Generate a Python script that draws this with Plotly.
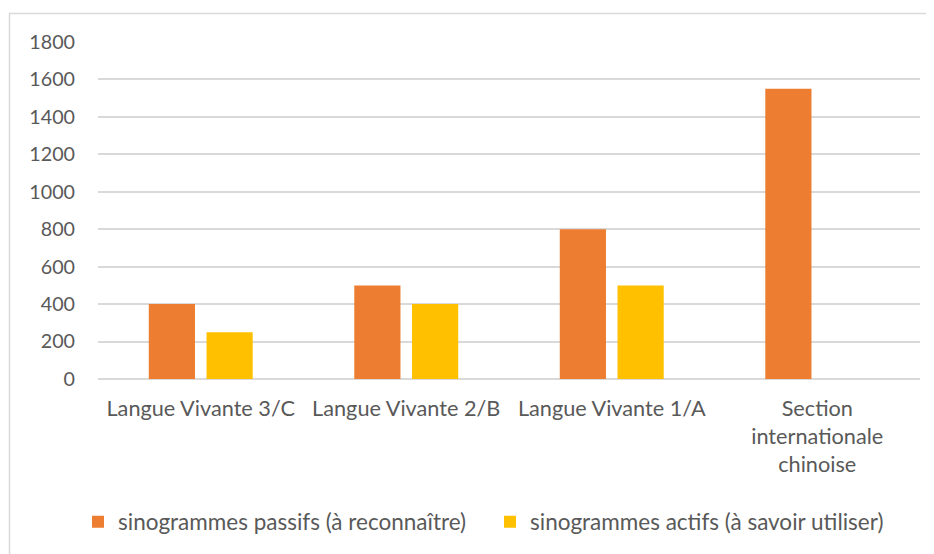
import plotly.graph_objects as go

categories = ["Langue Vivante 3/C", "Langue Vivante 2/B", "Langue Vivante 1/A",
              "Section<br>internationale<br>chinoise"]
passifs = [400, 500, 800, 1550]
actifs = [250, 400, 500, None]
series_names = ["sinogrammes passifs (à reconnaître)", "sinogrammes actifs (à savoir utiliser)"]
y_ticks = [0, 200, 400, 600, 800, 1000, 1200, 1400, 1600, 1800]

FONT = "Lato"
TXT = "#595959"
GRID = "#d9d9d9"
OFF = 8  # page body margin

fig = go.Figure()
fig.add_trace(go.Bar(x=categories, y=passifs, name=series_names[0],
                     marker=dict(color="#ED7D31", line=dict(width=0)),
                     legend="legend"))
fig.add_trace(go.Bar(x=categories, y=actifs, name=series_names[1],
                     marker=dict(color="#FFC000", line=dict(width=0)),
                     legend="legend2"))

W, H = 934, 554
L, T = 98 - OFF, 42 - OFF
R = W - (920 - OFF)
B = H - (379 - OFF)
pw, ph = W - L - R, H - T - B


def px_x(x):
    return (x - OFF - L) / pw


def px_y(y):
    return (H - B - (y - OFF)) / ph


leg_common = dict(orientation="h", yanchor="middle", xanchor="left",
                  font=dict(family=FONT, size=22.5, color=TXT),
                  itemwidth=30, bgcolor="rgba(0,0,0,0)")

fig.update_layout(
    width=W, height=H,
    margin=dict(l=L, r=R, t=T, b=B, pad=0),
    paper_bgcolor="white", plot_bgcolor="white",
    barmode="group", bargap=0.438, bargroupgap=0.2,
    font=dict(family=FONT, size=19, color=TXT),
    showlegend=True,
    legend=dict(x=px_x(78), y=px_y(522), **leg_common),
    legend2=dict(x=px_x(490), y=px_y(522), **leg_common),
    xaxis=dict(showgrid=False, showline=False, ticks="", zeroline=False,
               tickfont=dict(family=FONT, size=21.7, color=TXT),
               ticklabelstandoff=14, fixedrange=True),
    yaxis=dict(range=[0, 1800], tickvals=y_ticks, showgrid=True,
               gridcolor=GRID, gridwidth=1.5, zeroline=True,
               zerolinecolor=GRID, zerolinewidth=1.5, showline=False, ticks="",
               tickfont=dict(family=FONT, size=19.7, color=TXT),
               ticklabelstandoff=22, fixedrange=True),
    shapes=[dict(type="rect", xref="paper", yref="paper",
                 x0=px_x(9.5), x1=px_x(960), y0=px_y(575), y1=px_y(13.5),
                 line=dict(color=GRID, width=1.5), fillcolor="rgba(0,0,0,0)",
                 layer="below")],
)

fig.write_html("out.html")
